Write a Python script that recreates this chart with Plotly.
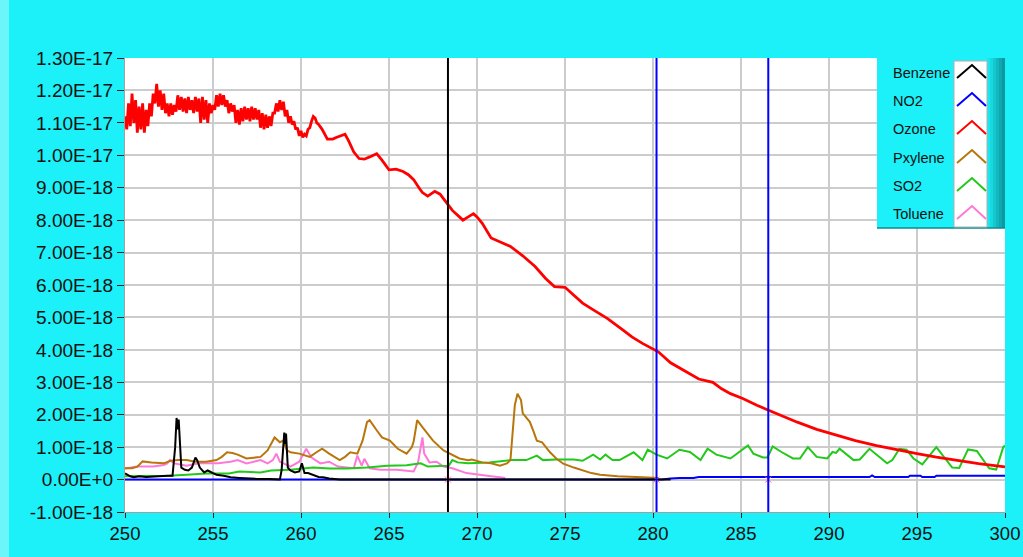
import numpy as np
import plotly.graph_objects as go

# ---------------- data (values in units of 1e-18) ----------------
SCALE = 1e-18

ozone_x = [
    250.0, 250.1, 250.2, 250.3, 250.4, 250.5, 250.6, 250.7, 250.8, 250.9,
    251.0, 251.1, 251.2, 251.3, 251.4, 251.5, 251.6, 251.7, 251.8, 251.9,
    252.0, 252.1, 252.2, 252.3, 252.4, 252.5, 252.6, 252.7, 252.8, 252.9,
    253.0, 253.1, 253.2, 253.3, 253.4, 253.5, 253.6, 253.7, 253.8, 253.9,
    254.0, 254.1, 254.2, 254.3, 254.4, 254.5, 254.6, 254.7, 254.8, 254.9,
    255.0, 255.1, 255.2, 255.3, 255.4, 255.5, 255.6, 255.7, 255.8, 255.9,
    256.0, 256.1, 256.2, 256.3, 256.4, 256.5, 256.6, 256.7, 256.8, 256.9,
    257.0, 257.1, 257.2, 257.3, 257.4, 257.5, 257.6, 257.7, 257.8, 257.9,
    258.0, 258.1, 258.2, 258.3, 258.4, 258.5, 258.6, 258.7, 258.8, 258.9,
    259.0, 259.1, 259.2, 259.3, 259.4, 259.5, 259.6, 259.7, 259.8, 259.9,
    260.0, 260.1, 260.2, 260.3, 260.4, 260.5, 260.6, 260.7, 260.8, 260.9,
    261.0, 261.2, 261.5, 261.8, 262.0, 262.2, 262.5, 262.7, 263.0, 263.3,
    263.6, 263.9, 264.3, 264.6, 265.0, 265.4, 265.8, 266.1, 266.4, 266.7,
    266.9, 267.2, 267.6, 267.9, 268.3, 268.6, 269.0, 269.2, 269.5, 269.8,
    270.0, 270.3, 270.8, 271.4, 271.9, 272.6, 273.3, 273.9, 274.4, 275.0,
    275.5, 276.0, 276.7, 277.4, 278.3, 278.8, 279.4, 280.3, 281.0, 281.9,
    282.6, 283.4, 283.9, 284.4, 285.1, 285.9, 286.8, 287.5, 288.2, 289.3,
    290.5, 291.5, 292.7, 293.8, 295.0, 296.1, 297.2, 298.5, 300.0,
]
ozone_y = [
    11.2, 10.8, 11.6, 10.9, 11.9, 11.0, 11.7, 10.7, 11.5, 10.8,
    11.6, 10.7, 11.4, 10.9, 11.6, 11.2, 11.9, 11.6, 12.2, 11.5,
    12.0, 11.4, 11.9, 11.3, 11.6, 11.2, 11.6, 11.25, 11.55, 11.35,
    11.85, 11.4, 11.8, 11.35, 11.75, 11.3, 11.8, 11.4, 11.7, 11.3,
    11.8, 11.35, 11.75, 11.0, 11.8, 11.1, 11.7, 11.0, 11.6, 11.3,
    11.55, 11.4, 11.85, 11.5, 11.9, 11.55, 11.85, 11.5, 11.7, 11.3,
    11.6, 11.35, 11.55, 11.0, 11.4, 10.95, 11.45, 11.05, 11.5, 11.1,
    11.45, 11.05, 11.5, 11.1, 11.45, 11.1, 11.4, 10.85, 11.3, 10.8,
    11.25, 10.85, 11.2, 10.9, 11.3, 11.3, 11.6, 11.35, 11.7, 11.4,
    11.65, 11.2, 11.4, 11.0, 11.2, 10.95, 11.05, 10.8, 10.85, 10.6,
    10.75, 10.55, 10.65, 10.6, 10.8, 10.85, 11.05, 11.2, 11.15, 11.0,
    10.95, 10.8, 10.5, 10.5, 10.55, 10.6, 10.65, 10.45, 10.1, 9.9,
    9.88, 9.95, 10.05, 9.85, 9.55, 9.57, 9.5, 9.4, 9.25, 9.0,
    8.85, 8.74, 8.89, 8.8, 8.5, 8.3, 8.1, 8.0, 8.1, 8.2,
    8.1, 7.9, 7.45, 7.3, 7.19, 6.9, 6.57, 6.2, 5.95, 5.93,
    5.7, 5.44, 5.2, 4.97, 4.61, 4.4, 4.2, 3.94, 3.6, 3.32,
    3.1, 3.0, 2.8, 2.65, 2.5, 2.29, 2.08, 1.92, 1.77, 1.55,
    1.36, 1.2, 1.05, 0.92, 0.8, 0.69, 0.59, 0.49, 0.39,
]

benzene_x = [
    250.0, 250.3, 250.5, 250.8, 251.2, 251.6, 252.0, 252.4, 252.7, 252.85,
    252.93, 253.0, 253.05, 253.15, 253.2, 253.4, 253.6, 253.8, 254.0, 254.1,
    254.25, 254.5, 254.7, 255.0, 255.2, 255.6, 256.0, 256.5, 256.9, 257.5,
    258.2, 258.8, 258.9, 259.0, 259.05, 259.1, 259.15, 259.25, 259.4, 259.65,
    259.9, 260.05, 260.2, 260.4, 260.7, 261.0, 261.25, 261.6, 262.2, 265.0,
    268.0, 272.0, 276.0, 280.0, 281.0,
]
benzene_y = [
    0.19, 0.10, 0.07, 0.10, 0.08, 0.10, 0.10, 0.12, 0.12, 1.0,
    1.9, 1.55, 1.85, 0.9, 0.37, 0.30, 0.28, 0.37, 0.68, 0.60,
    0.37, 0.22, 0.28, 0.20, 0.15, 0.12, 0.07, 0.05, 0.03, 0.02,
    0.02, 0.0, 0.3, 1.3, 1.45, 1.1, 1.42, 0.37, 0.28, 0.22,
    0.25, 0.5, 0.2, 0.2, 0.15, 0.08, 0.07, 0.03, 0.0, 0.0,
    0.0, 0.0, 0.0, 0.0, 0.0,
]

no2_x = [250.0, 280.5, 281.0, 281.5, 282.3, 282.6, 292.3, 292.45, 292.6, 294.5,
         294.6, 295.2, 295.3, 296.0, 296.1, 300.0]
no2_y = [0.0, 0.0, 0.03, 0.05, 0.05, 0.08, 0.08, 0.13, 0.08, 0.08,
         0.12, 0.12, 0.08, 0.08, 0.12, 0.12]

pxylene_x = [
    250.0, 250.4, 250.7, 251.0, 251.5, 252.2, 252.6, 253.0, 253.5, 254.0,
    254.6, 255.2, 255.5, 255.8, 256.1, 256.4, 256.9, 257.3, 257.7, 258.1,
    258.3, 258.5, 258.8, 259.0, 259.2, 259.4, 259.9, 260.5, 260.9, 261.2,
    261.6, 262.2, 262.5, 262.8, 263.2, 263.5, 263.75, 263.9, 264.3, 264.6,
    265.05, 265.5, 266.0, 266.3, 266.4, 266.6, 266.9, 267.2, 267.5, 268.1,
    268.5, 269.0, 269.5, 269.7, 270.3, 270.8, 271.3, 271.7, 271.9, 272.0,
    272.15, 272.3, 272.5, 272.6, 272.8, 273.0, 273.2, 273.4, 273.7, 273.9,
    274.15, 274.5, 274.9, 275.5, 276.0, 276.5, 277.0, 278.0, 279.4, 280.3,
]
pxylene_y = [
    0.35, 0.35, 0.40, 0.56, 0.53, 0.50, 0.58, 0.60, 0.60, 0.55,
    0.55, 0.60, 0.70, 0.84, 0.82, 0.77, 0.65, 0.68, 0.70, 0.90,
    1.10, 1.30, 1.15, 1.20, 0.90, 0.84, 0.80, 0.70, 0.85, 0.95,
    0.80, 0.60, 0.70, 0.84, 0.80, 1.20, 1.77, 1.83, 1.52, 1.30,
    1.20, 0.95, 0.80, 1.00, 1.17, 1.83, 1.62, 1.40, 1.20, 0.90,
    0.80, 0.65, 0.60, 0.62, 0.53, 0.50, 0.43, 0.50, 0.60, 1.40,
    2.30, 2.65, 2.45, 2.04, 1.90, 1.78, 1.50, 1.20, 1.15, 1.00,
    0.84, 0.65, 0.49, 0.37, 0.28, 0.20, 0.15, 0.10, 0.07, 0.05,
]

so2_x = [
    250.0, 251.0, 252.0, 252.5, 253.5, 254.6, 255.9, 256.5, 257.7, 258.3,
    259.4, 260.7, 261.6, 262.6, 263.75, 264.9, 266.0, 266.8, 267.2, 267.7,
    268.4, 268.6, 268.9, 269.5, 270.7, 271.9, 272.8, 273.4, 273.75, 274.5,
    275.5, 276.0, 276.6, 277.0, 277.3, 277.7, 278.1, 278.9, 279.4, 279.7,
    280.2, 280.8, 281.5, 282.1, 282.7, 283.1, 283.6, 284.4, 285.1, 285.4,
    285.7, 286.25, 286.5, 286.8, 287.3, 287.95, 288.35, 288.8, 289.3, 289.9,
    290.2, 290.4, 290.6, 291.4, 291.75, 292.3, 293.3, 293.6, 294.0, 294.4,
    294.8, 295.3, 296.1, 297.0, 297.4, 297.9, 298.4, 299.1, 299.5, 299.9,
    300.0,
]
so2_y = [
    0.10, 0.10, 0.10, 0.12, 0.15, 0.19, 0.19, 0.25, 0.22, 0.28,
    0.30, 0.37, 0.34, 0.34, 0.37, 0.43, 0.44, 0.50, 0.40, 0.42,
    0.43, 0.60, 0.53, 0.50, 0.53, 0.60, 0.60, 0.74, 0.60, 0.62,
    0.62, 0.58, 0.77, 0.62, 0.77, 0.60, 0.60, 0.84, 0.60, 0.92,
    0.77, 0.65, 0.92, 0.85, 0.60, 0.95, 0.77, 0.65, 0.95, 1.05,
    0.80, 0.68, 0.68, 1.02, 0.85, 0.65, 0.65, 1.00, 0.70, 0.65,
    0.85, 0.82, 0.95, 0.60, 0.62, 0.95, 0.50, 0.60, 0.95, 0.92,
    0.65, 0.47, 1.00, 0.37, 0.36, 0.93, 0.88, 0.35, 0.31, 1.00,
    1.05,
]

toluene_x = [
    250.0, 250.7, 251.6, 252.2, 252.4, 252.55, 252.8, 253.5, 254.2, 255.3,
    256.0, 256.4, 256.9, 257.3, 257.7, 258.1, 258.4, 258.6, 258.8, 259.4,
    259.9, 260.3, 260.6, 261.1, 261.6, 262.1, 263.0, 263.2, 263.45, 263.6,
    263.9, 264.5, 265.45, 266.4, 266.65, 266.9, 267.0, 267.3, 267.7, 268.1,
    268.6, 269.4, 270.2, 270.8, 271.3, 271.6,
]
toluene_y = [
    0.34, 0.40, 0.40, 0.45, 0.50, 0.60, 0.50, 0.43, 0.50, 0.50,
    0.55, 0.60, 0.50, 0.55, 0.60, 0.50, 0.60, 0.80, 0.55, 0.40,
    0.55, 0.95, 0.68, 0.50, 0.55, 0.40, 0.35, 0.74, 0.43, 0.64,
    0.35, 0.30, 0.30, 0.25, 0.53, 1.30, 0.80, 0.53, 0.55, 0.40,
    0.35, 0.20, 0.13, 0.10, 0.07, 0.05,
]

series_names = ["Benzene", "NO2", "Ozone", "Pxylene", "SO2", "Toluene"]
series_colors = ["#000000", "#0000FF", "#FF0000", "#B8760A", "#22C81A", "#FF78D8"]
series_widths = [2, 2, 2.8, 2, 2, 2]
series_data = [
    (benzene_x, benzene_y), (no2_x, no2_y), (ozone_x, ozone_y),
    (pxylene_x, pxylene_y), (so2_x, so2_y), (toluene_x, toluene_y),
]

cursor_x = [268.35, 280.2, 286.55]
cursor_colors = ["#000000", "#0000FF", "#0000FF"]

x_ticks = [250, 255, 260, 265, 270, 275, 280, 285, 290, 295, 300]
y_tick_units = [-1, 0, 1, 2, 3, 4, 5, 6, 7, 8, 9, 10, 11, 12, 13]
y_tick_text = ["-1.00E-18", "0.00E+0", "1.00E-18", "2.00E-18", "3.00E-18",
               "4.00E-18", "5.00E-18", "6.00E-18", "7.00E-18", "8.00E-18",
               "9.00E-18", "1.00E-17", "1.10E-17", "1.20E-17", "1.30E-17"]

# ---------------- figure ----------------
BG = "#1CF0F8"
W, H = 1023, 557
ML, MR, MT, MB = 125, 18, 58, 45
PW, PH = W - ML - MR, H - MT - MB

def px(xpix):
    return (xpix - ML) / PW

def py(ypix):
    return (H - MB - ypix) / PH

fig = go.Figure()

# draw order: Toluene, SO2, Pxylene, Ozone, NO2, Benzene (benzene on top)
order = [5, 4, 3, 2, 1, 0]
for i in order:
    xs, ys = series_data[i]
    fig.add_trace(go.Scatter(
        x=xs, y=np.array(ys) * SCALE, mode="lines", name=series_names[i],
        line=dict(color=series_colors[i], width=series_widths[i]),
        hoverinfo="skip", showlegend=False,
    ))

shapes = []
# lighter bevel strip on the left edge
shapes.append(dict(type="rect", xref="paper", yref="paper",
                   x0=px(0), x1=px(9), y0=py(H), y1=py(0),
                   fillcolor="#6AF6FA", line=dict(width=0), layer="below"))

# cursors
for cx, cc in zip(cursor_x, cursor_colors):
    shapes.append(dict(type="line", xref="x", yref="paper", x0=cx, x1=cx,
                       y0=0, y1=1, line=dict(color=cc, width=2), layer="above"))

# custom legend box
LX0, LX1, LY0, LY1 = 877, 1005, 58, 228
shapes.append(dict(type="rect", xref="paper", yref="paper",
                   x0=px(LX0), x1=px(LX1), y0=py(LY1), y1=py(LY0),
                   fillcolor=BG, line=dict(width=0), layer="above"))
# right gradient strip
strip_cols = ["#1AE6EE", "#18D8E0", "#15C8D0", "#12B8C0", "#10A8B0", "#0E98A0"]
sw = (LX1 - 987) / len(strip_cols)
for k, col in enumerate(strip_cols):
    shapes.append(dict(type="rect", xref="paper", yref="paper",
                       x0=px(987 + k * sw), x1=px(987 + (k + 1) * sw),
                       y0=py(LY1), y1=py(LY0),
                       fillcolor=col, line=dict(width=0), layer="above"))
# bottom shadow
shapes.append(dict(type="line", xref="paper", yref="paper",
                   x0=px(LX0), x1=px(LX1), y0=py(LY1), y1=py(LY1),
                   line=dict(color="#0E8A92", width=1.5), layer="above"))
# white sample area
shapes.append(dict(type="rect", xref="paper", yref="paper",
                   x0=px(954), x1=px(987), y0=py(227), y1=py(61),
                   fillcolor="#FFFFFF", line=dict(color="#B0B0B0", width=1),
                   layer="above"))

annotations = []
row_centers = [73, 101, 129, 158, 186, 214]
for name, col, cy in zip(series_names, series_colors, row_centers):
    annotations.append(dict(xref="paper", yref="paper", x=px(891), y=py(cy),
                            text=name, showarrow=False, xanchor="left",
                            yanchor="middle",
                            font=dict(family="Liberation Sans, Arial", size=14.5,
                                      color="#111111")))
    path = "M {:.5f} {:.5f} L {:.5f} {:.5f} L {:.5f} {:.5f}".format(
        px(957), py(cy + 5), px(972), py(cy - 8), px(986), py(cy + 5))
    shapes.append(dict(type="path", xref="paper", yref="paper", path=path,
                       line=dict(color=col, width=2), layer="above"))

# cursor markers on the zero line
fig.add_trace(go.Scatter(
    x=cursor_x, y=[0.0] * len(cursor_x), mode="markers",
    marker=dict(symbol="x-thin-open", size=6,
                line=dict(color="#8080C0", width=1)),
    hoverinfo="skip", showlegend=False,
))

yfont = dict(family="Liberation Sans, Arial", size=19, color="#111111")
xfont = dict(family="Liberation Sans, Arial", size=18.5, color="#111111")

fig.update_layout(
    width=W, height=H,
    margin=dict(l=ML, r=MR, t=MT, b=MB, pad=0, autoexpand=False),
    paper_bgcolor=BG, plot_bgcolor="#FFFFFF",
    showlegend=False,
    shapes=shapes, annotations=annotations,
    xaxis=dict(range=[250, 300], tickvals=x_ticks,
               ticktext=[str(v) for v in x_ticks], automargin=False,
               showgrid=True, gridcolor="#CCCCCC", gridwidth=2,
               zeroline=False, showline=True, linecolor="#A0A0A0", linewidth=1,
               ticks="outside", ticklen=5, tickcolor="#222222", tickwidth=1,
               tickfont=xfont, fixedrange=True),
    yaxis=dict(range=[-1e-18, 1.3e-17], automargin=False,
               tickvals=[v * SCALE for v in y_tick_units], ticktext=y_tick_text,
               showgrid=True, gridcolor="#CCCCCC", gridwidth=2,
               zeroline=False, showline=True, linecolor="#A0A0A0", linewidth=1,
               ticks="outside", ticklen=7, tickcolor="#222222", tickwidth=1,
               tickfont=yfont, fixedrange=True),
)

fig.write_html("out.html", config={"displayModeBar": False})
